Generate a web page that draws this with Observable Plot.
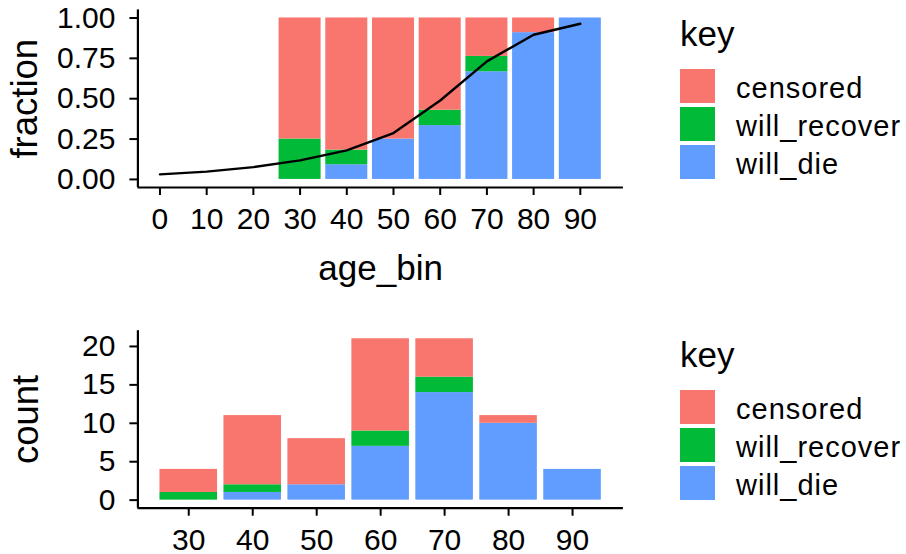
<!DOCTYPE html>
<html>
<head>
<meta charset="utf-8">
<script src="https://cdn.jsdelivr.net/npm/d3@7"></script>
<script src="https://cdn.jsdelivr.net/npm/@observablehq/plot@0.6"></script>
<style>
  html, body { margin: 0; padding: 0; background: #fff; }
  #chart { position: relative; width: 906px; height: 554px; overflow: hidden; background: #fff;
           font-family: "Liberation Sans", Arial, Helvetica, sans-serif; color: #000; }
  #chart svg { position: absolute; left: 0; overflow: visible; }
  .legend { position: absolute; left: 680px; width: 220px; height: 190px; }
  .legend .title { position: absolute; left: 0; top: 0; font-size: 35px; line-height: 35px; white-space: nowrap; }
  .legend .sw { position: absolute; left: 0; width: 35px; height: 34px; }
  .legend .lab { position: absolute; left: 56px; font-size: 29px; line-height: 34px; height: 34px; white-space: nowrap; letter-spacing: 1px; }
</style>
</head>
<body>
<div id="chart"></div>
<script>
// Age bins and outcome counts per bin
const ageBins = [30, 40, 50, 60, 70, 80, 90];
const willDie = [0, 1, 2, 7, 14, 10, 4];
const willRecover = [1, 1, 0, 2, 2, 0, 0];
const censored = [3, 9, 6, 12, 5, 1, 0];

// Fitted probability of death by age
const curveAge = [0, 10, 20, 30, 40, 50, 60, 70, 80, 90];
const curveFraction = [0.031, 0.048, 0.076, 0.118, 0.18, 0.287, 0.489, 0.731, 0.896, 0.964];

// Legend order (top to bottom) and stacking order (bottom to top)
const keys = ["censored", "will_recover", "will_die"];
const stackOrder = ["will_die", "will_recover", "censored"];
const keyColors = ["#F8766D", "#00BA38", "#619CFF"];

const fractionTicks = [0, 0.25, 0.5, 0.75, 1];
const countTicks = [0, 5, 10, 15, 20];
const binWidth = 9;

const font = '"Liberation Sans", Arial, Helvetica, sans-serif';
const countsByKey = {censored, will_recover: willRecover, will_die: willDie};

// Long table with stacked extents for both count and fraction
const rows = [];
ageBins.forEach((age, i) => {
  const total = stackOrder.reduce((s, k) => s + countsByKey[k][i], 0);
  let c0 = 0;
  for (const k of stackOrder) {
    const n = countsByKey[k][i];
    rows.push({age, key: k, count: n, c1: c0, c2: c0 + n, f1: c0 / total, f2: (c0 + n) / total});
    c0 += n;
  }
});
const bars = rows.filter(d => d.count > 0);

// ggplot-style 5% expansion of a continuous range
const expand = ([a, b], m = 0.05) => [a - (b - a) * m, b + (b - a) * m];

const color = {domain: keys, range: keyColors};
const style = {fontFamily: font, fontSize: "30px", background: "transparent", overflow: "visible", color: "#000"};
const xAxisCommon = {tickSize: 8, tickPadding: 12, strokeWidth: 2, fontSize: 30};
const yAxisCommon = {tickSize: 8, tickPadding: 14.5, strokeWidth: 2, fontSize: 30};
const titleText = {lineAnchor: "bottom", textAnchor: "middle", fontSize: 35, fill: "#000"};

// ---- upper panel: fraction by age with fitted curve
const xTopDomain = expand([Math.min(d3.min(curveAge), d3.min(ageBins) - binWidth / 2), Math.max(d3.max(curveAge), d3.max(ageBins) + binWidth / 2)]);
const yTopDomain = expand([0, 1]);
const fractionPlot = Plot.plot({
  width: 640, height: 300,
  marginLeft: 137.4, marginRight: 17.1, marginTop: 9.4, marginBottom: 113,
  style,
  x: {domain: xTopDomain},
  y: {domain: yTopDomain},
  color,
  marks: [
    Plot.rect(bars, {x1: d => d.age - binWidth / 2, x2: d => d.age + binWidth / 2, y1: "f1", y2: "f2", fill: "key"}),
    Plot.line(curveAge.map((a, i) => ({a, p: curveFraction[i]})), {x: "a", y: "p", stroke: "#000", strokeWidth: 2.4}),
    Plot.ruleY([yTopDomain[0]], {stroke: "#000", strokeWidth: 2.2}),
    Plot.ruleX([xTopDomain[0]], {stroke: "#000", strokeWidth: 2.2}),
    Plot.axisX({...xAxisCommon, ticks: curveAge, label: null}),
    Plot.axisY({...yAxisCommon, ticks: fractionTicks, tickFormat: d => d.toFixed(2), label: null}),
    Plot.text(["age_bin"], {...titleText, frameAnchor: "bottom", dy: 92}),
    Plot.text(["fraction"], {...titleText, frameAnchor: "left", dx: -100.5, rotate: -90, fontSize: 36.5})
  ]
});
fractionPlot.style.top = "0px";

// ---- lower panel: counts by age
const xBotDomain = expand([d3.min(ageBins) - binWidth / 2, d3.max(ageBins) + binWidth / 2]);
const yBotDomain = expand([0, d3.max(ageBins, (a, i) => willDie[i] + willRecover[i] + censored[i])]);
const countPlot = Plot.plot({
  width: 640, height: 254,
  marginLeft: 137.4, marginRight: 17.1, marginTop: 30.2, marginBottom: 46.3,
  style,
  x: {domain: xBotDomain},
  y: {domain: yBotDomain},
  color,
  marks: [
    Plot.rect(bars, {x1: d => d.age - binWidth / 2, x2: d => d.age + binWidth / 2, y1: "c1", y2: "c2", fill: "key"}),
    Plot.ruleY([yBotDomain[0]], {stroke: "#000", strokeWidth: 2.2}),
    Plot.ruleX([xBotDomain[0]], {stroke: "#000", strokeWidth: 2.2}),
    Plot.axisX({...xAxisCommon, ticks: ageBins, label: null}),
    Plot.axisY({...yAxisCommon, ticks: countTicks, label: null}),
    Plot.text(["count"], {...titleText, frameAnchor: "left", dx: -100, rotate: -90, fontSize: 36.5})
  ]
});
countPlot.style.top = "300px";

const chart = document.getElementById("chart");
chart.append(fractionPlot, countPlot);

// ---- legends (one per panel)
function legend(topPx) {
  const el = document.createElement("div");
  el.className = "legend";
  el.style.top = topPx + "px";
  const t = document.createElement("div");
  t.className = "title";
  t.textContent = "key";
  el.append(t);
  keys.forEach((k, i) => {
    const sw = document.createElement("div");
    sw.className = "sw";
    sw.style.top = (53 + 38 * i) + "px";
    sw.style.background = keyColors[i];
    const lab = document.createElement("div");
    lab.className = "lab";
    lab.style.top = (53 + 38 * i + 2) + "px";
    lab.textContent = k;
    el.append(sw, lab);
  });
  return el;
}
chart.append(legend(16), legend(336.5));
</script>
</body>
</html>
